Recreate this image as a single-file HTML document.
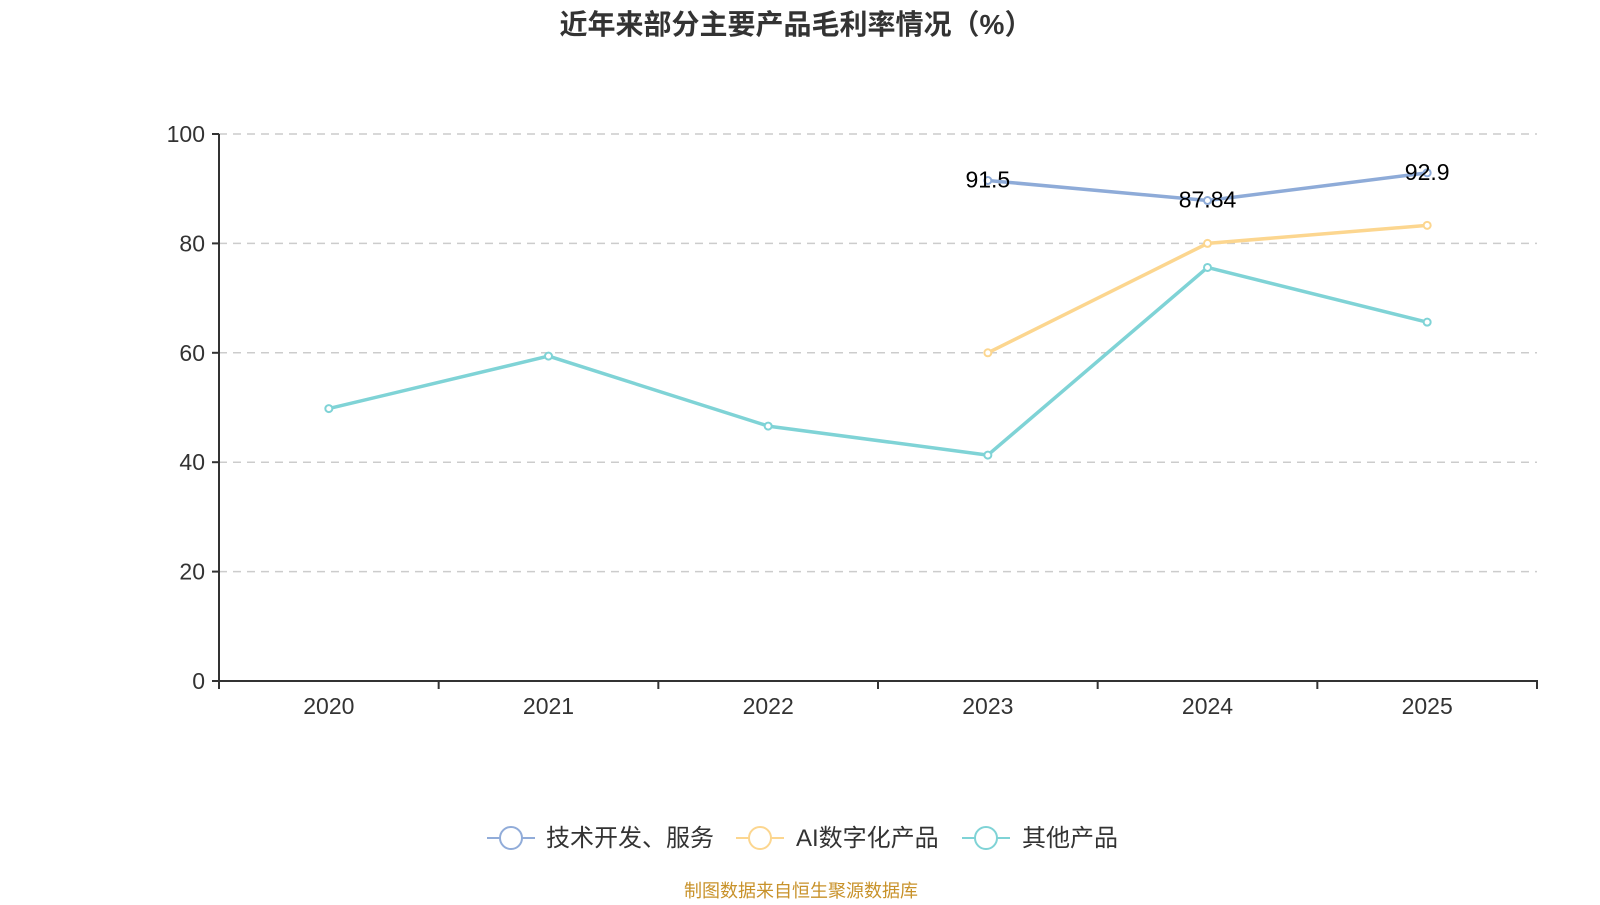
<!DOCTYPE html>
<html><head><meta charset="utf-8"><style>
html,body{margin:0;padding:0;background:#fff;}
body{width:1600px;height:900px;overflow:hidden;font-family:"Liberation Sans","Noto Sans CJK SC",sans-serif;}
</style></head><body>
<svg id="chart" width="1600" height="900" xmlns="http://www.w3.org/2000/svg">
<text x="796" y="34" text-anchor="middle" font-size="28" font-weight="bold" fill="#333" font-family="Liberation Sans, Noto Sans CJK SC, sans-serif">近年来部分主要产品毛利率情况（%）</text>
<g id="grid"></g><g id="axes"></g><g id="series"></g>
<g font-size="24" fill="#333" font-family="Liberation Sans, Noto Sans CJK SC, sans-serif">
 <g>
  <line x1="487" y1="838" x2="535" y2="838" stroke="#91acd9" stroke-width="2"/>
  <circle cx="511" cy="838" r="11" fill="#fff" stroke="#91acd9" stroke-width="2"/>
  <text x="546" y="846">技术开发、服务</text></g>
 <g>
  <line x1="736" y1="838" x2="784" y2="838" stroke="#fcd68f" stroke-width="2"/>
  <circle cx="760" cy="838" r="11" fill="#fff" stroke="#fcd68f" stroke-width="2"/>
  <text x="796" y="846">AI数字化产品</text></g>
 <g>
  <line x1="962" y1="838" x2="1010" y2="838" stroke="#7fd3d6" stroke-width="2"/>
  <circle cx="986" cy="838" r="11" fill="#fff" stroke="#7fd3d6" stroke-width="2"/>
  <text x="1022" y="846">其他产品</text></g>
</g>
<text x="801" y="897" text-anchor="middle" font-size="18" fill="#c8922a" font-family="Liberation Sans, Noto Sans CJK SC, sans-serif">制图数据来自恒生聚源数据库</text>
</svg>
<script>
const categories=["2020","2021","2022","2023","2024","2025"];
const yTicks=[0,20,40,60,80,100];
const techService=[null,null,null,91.5,87.84,92.9];
const aiDigital=[null,null,null,60,80,83.3];
const otherProducts=[49.8,59.4,46.6,41.3,75.6,65.6];
const NS="http://www.w3.org/2000/svg";
const X0=219,X1=1537,Y0=681,Y1=134;
const band=(X1-X0)/categories.length;
function xPos(i){return X0+band*(i+0.5);}
function yPos(v){return Y0-(v/100)*(Y0-Y1);}
function mk(tag,attrs,parent){const e=document.createElementNS(NS,tag);for(const k in attrs)e.setAttribute(k,attrs[k]);parent.appendChild(e);return e;}
const grid=document.getElementById('grid'),axes=document.getElementById('axes'),ser=document.getElementById('series');
yTicks.forEach(t=>{const y=yPos(t);
 if(t>0){const g=mk('line',{x1:X0,x2:X1,y1:y,y2:y,stroke:'#ccc','stroke-width':1.5,'stroke-dasharray':'8,6'},grid);
 
 }
 mk('line',{x1:X0-7,x2:X0,y1:y,y2:y,stroke:'#333','stroke-width':2},axes);
 const l=mk('text',{x:X0-14,y:y+8,'text-anchor':'end','font-size':23,fill:'#333','font-family':'Liberation Sans, sans-serif'},axes);
 l.textContent=t;
 
 
});
const ya=mk('line',{x1:X0,x2:X0,y1:Y1,y2:Y0,stroke:'#333','stroke-width':2},axes);


const xa=mk('line',{x1:X0-1,x2:X1+1,y1:Y0,y2:Y0,stroke:'#333','stroke-width':2},axes);


for(let i=0;i<=categories.length;i++){const x=X0+band*i;mk('line',{x1:x,x2:x,y1:Y0,y2:Y0+8,stroke:'#333','stroke-width':2},axes);}
categories.forEach((c,i)=>{const l=mk('text',{x:xPos(i),y:Y0+33,'text-anchor':'middle','font-size':23,fill:'#333','font-family':'Liberation Sans, sans-serif'},axes);
 l.textContent=c;
 
 });
function drawSeries(data,color,name,labels){
 const pts=[];data.forEach((v,i)=>{if(v!==null)pts.push([xPos(i),yPos(v),v]);});
 const p=mk('polyline',{points:pts.map(q=>q[0]+','+q[1]).join(' '),fill:'none',stroke:color,'stroke-width':3.5,'stroke-linejoin':'round'},ser);
 
 
 pts.forEach(q=>{const c=mk('circle',{cx:q[0],cy:q[1],r:3.5,fill:'#fff',stroke:color,'stroke-width':2},ser);
  
  
  if(labels){const t=mk('text',{x:q[0],y:q[1]+7,'text-anchor':'middle','font-size':23,fill:'#000','font-family':'Liberation Sans, sans-serif'},ser);
   t.textContent=q[2];
   
   }});
}
drawSeries(otherProducts,'#7fd3d6','other-products',false);
drawSeries(aiDigital,'#fcd68f','ai-digital',false);
drawSeries(techService,'#8eabd8','tech-service',true);
</script>
</body></html>
